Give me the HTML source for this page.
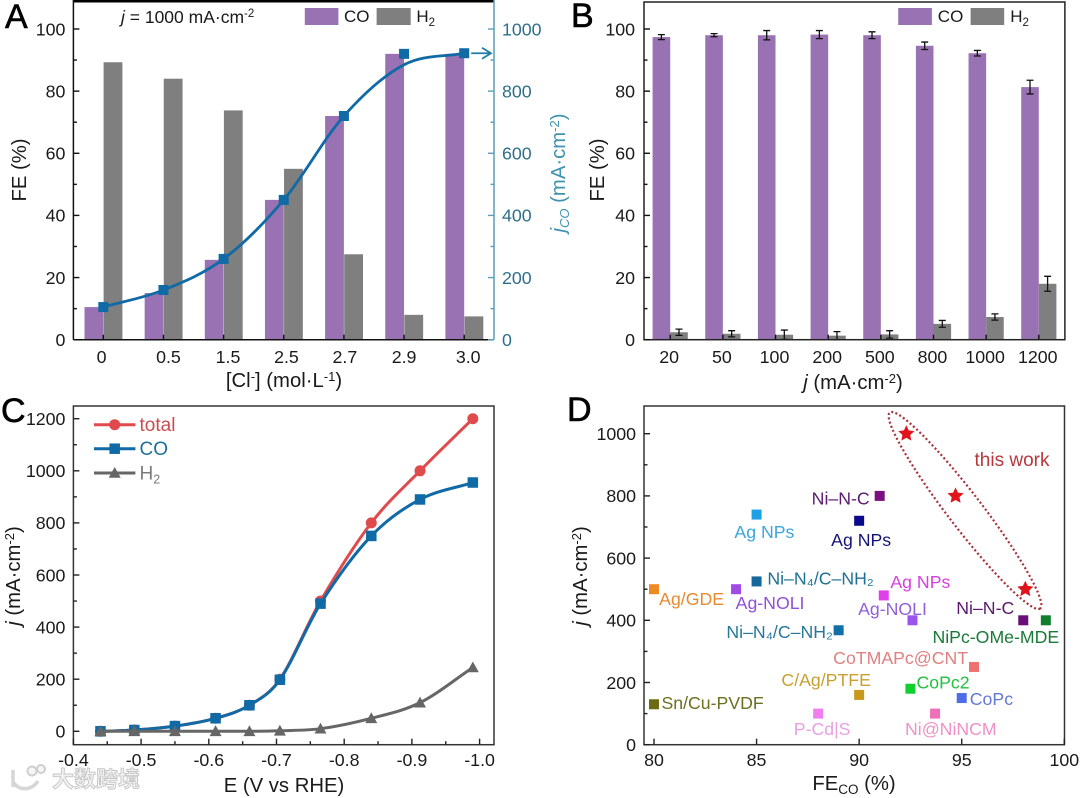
<!DOCTYPE html>
<html lang="en">
<head>
<meta charset="utf-8">
<title>CO2 electrolysis performance panels</title>
<style>
html,body{margin:0;padding:0;background:#fff;}
svg{display:block;font-family:"Liberation Sans","Noto Sans CJK SC",sans-serif;}
text{fill:#1a1a1a;}
.tick{font-size:17.8px;}
.title{font-size:20.3px;}
.letter{font-size:34px;fill:#000;stroke:#000;stroke-width:.6px;}
.dlabel{font-size:17.7px;text-anchor:middle;}
.leg{font-size:17px;}
</style>
</head>
<body>
<svg id="figure" width="1080" height="798" viewBox="0 0 1080 798" xmlns="http://www.w3.org/2000/svg">
<rect width="1080" height="798" fill="#fff"/>

<g id="panelA"></g>
<g id="panelB"></g>
<g id="panelC"></g>
<g id="panelD"></g>

<text class="letter" x="5" y="28">A</text>
<text class="letter" x="571" y="27">B</text>
<text class="letter" x="1" y="422">C</text>
<text class="letter" x="567" y="421">D</text>

<!-- Panel A static text -->
<text x="121" y="23" font-size="17.5"><tspan font-style="italic">j</tspan> = 1000 mA·cm<tspan dy="-6" font-size="11.5">-2</tspan></text>
<rect x="304.800" y="8" width="33.600" height="17" fill="#9872b2"/>
<text class="leg" x="344" y="22">CO</text>
<rect x="376.600" y="8" width="34.100" height="17" fill="#7f7f7f"/>
<text class="leg" x="416.400" y="22">H<tspan dy="4" font-size="11.5">2</tspan></text>
<text class="title" transform="translate(26,170) rotate(-90)" text-anchor="middle">FE (%)</text>
<text class="title" x="284" y="387" text-anchor="middle">[Cl<tspan dy="-6" font-size="13">-</tspan><tspan dy="6">] (mol·L</tspan><tspan dy="-6" font-size="13">-1</tspan><tspan dy="6">)</tspan></text>
<text class="title" transform="translate(565,173) rotate(-90)" text-anchor="middle" style="fill:#3f93ad"><tspan style="fill:#3f93ad" font-style="italic">j</tspan><tspan style="fill:#3f93ad" font-style="italic" dy="4" font-size="13">CO</tspan><tspan style="fill:#3f93ad" dy="-4"> (mA·cm</tspan><tspan style="fill:#3f93ad" dy="-6" font-size="13">-2</tspan><tspan style="fill:#3f93ad" dy="6">)</tspan></text>

<!-- Panel B static text -->
<rect x="898.200" y="8" width="33.700" height="17" fill="#9872b2"/>
<text class="leg" x="937.800" y="22">CO</text>
<rect x="970.600" y="8" width="33.600" height="17" fill="#7f7f7f"/>
<text class="leg" x="1010.200" y="22">H<tspan dy="4" font-size="11.5">2</tspan></text>
<text class="title" transform="translate(604,170) rotate(-90)" text-anchor="middle">FE (%)</text>
<text class="title" x="853" y="389" text-anchor="middle"><tspan font-style="italic">j</tspan> (mA·cm<tspan dy="-6" font-size="13">-2</tspan><tspan dy="6">)</tspan></text>

<!-- Panel C static text -->
<text class="title" transform="translate(20,576) rotate(-90)" text-anchor="middle"><tspan font-style="italic">j</tspan> (mA·cm<tspan dy="-6" font-size="13">-2</tspan><tspan dy="6">)</tspan></text>
<text class="title" x="284" y="792" text-anchor="middle">E (V vs RHE)</text>

<!-- Panel D static text -->
<text class="title" transform="translate(587,576) rotate(-90)" text-anchor="middle"><tspan font-style="italic">j</tspan> (mA·cm<tspan dy="-6" font-size="13">-2</tspan><tspan dy="6">)</tspan></text>
<text class="title" x="854" y="790" text-anchor="middle">FE<tspan dy="4" font-size="13.5">CO</tspan><tspan dy="-4"> (%)</tspan></text>
<text x="1012" y="466" font-size="19" text-anchor="middle" style="fill:#b8383c">this work</text>
<ellipse cx="965" cy="510.500" rx="123.500" ry="17" transform="rotate(52.5 965 510.500)" fill="none" stroke="#a83038" stroke-width="2.2" stroke-dasharray="2 2.4"/>

<!-- Watermark -->
<g>
  <circle cx="32" cy="771" r="4.500" fill="#f6f6f6" stroke="#cfcfcf" stroke-width="2"/>
  <circle cx="41" cy="769" r="4" fill="#f6f6f6" stroke="#cfcfcf" stroke-width="2"/>
  <path d="M13 770 L13 787 M13 782 C20 792 32 790 38 781" fill="none" stroke="#d6d6d6" stroke-width="3.500"/>
  <text x="52" y="787" font-size="22" font-weight="bold" style="fill:#f2f2f2;stroke:#c6c6c6;stroke-width:.9px;font-family:'Liberation Sans','Noto Sans CJK SC',sans-serif">大数跨境</text>
</g>

<script>
/* ---------- Panel A data ---------- */
var aCategories = ['0', '0.5', '1.5', '2.5', '2.7', '2.9', '3.0'];
var aFeCO = [10.5, 15, 25.7, 45, 72, 92, 92];
var aFeH2 = [89.3, 84, 73.8, 55, 27.5, 8, 7.5];
var aJco = [105, 160, 260, 450, 720, 920, 922];
var aJcoFit = [105, 160, 260, 450, 720, 885, 922];
var aFeTicks = [0, 10, 20, 30, 40, 50, 60, 70, 80, 90, 100];
var aJTicks = [0, 100, 200, 300, 400, 500, 600, 700, 800, 900, 1000];

/* ---------- Panel B data ---------- */
var bCategories = ['20', '50', '100', '200', '500', '800', '1000', '1200'];
var bFeCO = [97.4, 98, 98, 98.2, 98, 94.6, 92.2, 81.3];
var bFeCOErr = [0.8, 0.5, 1.5, 1.3, 1.1, 1.2, 0.9, 2.2];
var bFeH2 = [2.4, 1.9, 1.6, 1.3, 1.7, 5.1, 7.3, 18];
var bFeH2Err = [1, 1, 1.5, 1.3, 1.2, 1.1, 1, 2.4];
var bFeTicks = [0, 10, 20, 30, 40, 50, 60, 70, 80, 90, 100];

/* ---------- Panel C data ---------- */
var cPotential = [-0.44, -0.49, -0.55, -0.61, -0.66, -0.705, -0.765, -0.84, -0.912, -0.99];
var cTotal = [0, 5, 20, 50, 100, 200, 500, 800, 1000, 1200];
var cCO = [0, 5, 20, 50, 100, 198, 490, 750, 890, 955];
var cH2 = [0, 0, 0, 0, 0, 2, 10, 50, 110, 245];
var cXTicks = [-0.4, -0.45, -0.5, -0.55, -0.6, -0.65, -0.7, -0.75, -0.8, -0.85, -0.9, -0.95, -1.0];
var cYTicks = [0, 100, 200, 300, 400, 500, 600, 700, 800, 900, 1000, 1100, 1200];

/* ---------- Panel D data ---------- */
var dNames = ['Ag/GDE', 'Sn/Cu-PVDF', 'Ag NPs', 'Ni\u2013N\u2084/C\u2013NH\u2082', 'Ag-NOLI', 'Ni\u2013N-C', 'Ag NPs', 'Ag NPs', 'Ag-NOLI', 'Ni\u2013N-C', 'NiPc-OMe-MDE', 'Ni\u2013N\u2084/C\u2013NH\u2082', 'CoTMAPc@CNT', 'CoPc2', 'CoPc', 'C/Ag/PTFE', 'P-Cd|S', 'Ni@NiNCM'];
var dFE = [80, 80, 85, 85, 84, 91, 90, 91.2, 92.6, 98, 99.1, 89, 95.6, 92.5, 95, 90, 88, 93.7];
var dJ = [500, 130, 740, 525, 500, 800, 720, 480, 400, 400, 400, 368, 250, 180, 150, 160, 100, 100];
var dThisFE = [92.3, 94.7, 98.1];
var dThisJ = [1000, 800, 500];
var dXTicks = [80, 85, 90, 95, 100];
var dYTicks = [0, 100, 200, 300, 400, 500, 600, 700, 800, 900, 1000];

/* ---------- Styling and label layout (not data) ---------- */
var PURPLE = '#9872b2', GREY = '#7f7f7f', BLUE = '#0f6aa5', RED = '#e04a4c', DGREY = '#666666', TEAL = '#5a9fb5', TEALTXT = '#2d6f8a';
var dFill = ['#f08a24', '#6b6b14', '#1ea0e6', '#14689c', '#a04ae8', '#7a0f80', '#0a0a8a', '#e040e8', '#9b55ee', '#6a0f78', '#0f7f2c', '#1270a8', '#ee7070', '#10d030', '#4e6ee8', '#c8981c', '#f080f0', '#f070b8'];
var dTextFill = ['#e88a30', '#6e6e20', '#3aa6dc', '#1f7096', '#9050d8', '#5a1a70', '#141478', '#d840e0', '#9060d8', '#5a1a70', '#1a7a38', '#28789e', '#e08080', '#20c040', '#6478d8', '#c8a030', '#e8a0e0', '#f090c8'];
var layoutLabelShift = [[37.6, 15.8], [58.6, 4.7], [7.8, 23.4], [64, 3.3], [34, 19.8], [-39, 8.8], [2, 25.2], [36.6, -7.4], [-20, -5.3], [-38, -6.3], [-50, 22.7], [-59, 7.7], [-73.4, -3], [32.6, 0], [29.7, 6.7], [-33, -9], [4, 21.4], [15.8, 21.4]];
var layoutANudge = [-1.7, 5, 4.4, 2.7, 1, 0, 4];

var NS = 'http://www.w3.org/2000/svg';
function mk(parent, tag, attrs, txt) {
  var e = document.createElementNS(NS, tag);
  for (var k in attrs) e.setAttribute(k, attrs[k]);
  if (txt !== undefined) e.textContent = txt;
  parent.appendChild(e);
  return e;
}
function linear(d0, d1, r0, r1) {
  return function (v) { return r0 + (v - d0) * (r1 - r0) / (d1 - d0); };
}
function smoothPath(xs, ys) {
  var n = xs.length, d = [], m = [], i;
  for (i = 0; i < n - 1; i++) d.push((ys[i + 1] - ys[i]) / (xs[i + 1] - xs[i]));
  m[0] = d[0];
  m[n - 1] = d[n - 2];
  for (i = 1; i < n - 1; i++) {
    if (d[i - 1] * d[i] <= 0) { m[i] = 0; continue; }
    var t = (ys[i + 1] - ys[i - 1]) / (xs[i + 1] - xs[i - 1]);
    var lim = 3 * Math.min(Math.abs(d[i - 1]), Math.abs(d[i]));
    m[i] = Math.sign(t) * Math.min(Math.abs(t), lim);
  }
  var p = 'M' + xs[0] + ' ' + ys[0];
  for (i = 0; i < n - 1; i++) {
    var h = (xs[i + 1] - xs[i]) / 3;
    p += ' C' + (xs[i] + h) + ' ' + (ys[i] + m[i] * h) + ' ' + (xs[i + 1] - h) + ' ' + (ys[i + 1] - m[i + 1] * h) + ' ' + xs[i + 1] + ' ' + ys[i + 1];
  }
  return p;
}
function squareMark(g, cx, cy, size, fill) {
  return mk(g, 'rect', { x: cx - size / 2, y: cy - size / 2, width: size, height: size, fill: fill });
}
function trianglePts(cx, cy, r) {
  return cx + ',' + (cy - r) + ' ' + (cx - r) + ',' + (cy + r * 0.8) + ' ' + (cx + r) + ',' + (cy + r * 0.8);
}
function starPts(cx, cy, R) {
  var s = [];
  for (var i = 0; i < 10; i++) {
    var r = i % 2 ? R * 0.48 : R, a = -Math.PI / 2 + i * Math.PI / 5;
    s.push((cx + r * Math.cos(a)) + ',' + (cy + r * Math.sin(a)));
  }
  return s.join(' ');
}
function frame(g, x0, y0, x1, y1, stroke) {
  var f = mk(g, 'rect', { x: x0, y: y0, width: x1 - x0, height: y1 - y0, fill: 'none', stroke: stroke, 'stroke-width': 1.5 });
  
  
}
function yAxis(g, ticks, scale, axisX, dir, labelX, anchor, stroke, textColor, axisName) {
  ticks.forEach(function (v, i) {
    var major = i % 2 === 0, len = major ? 6 : 3.5;
    var t = mk(g, 'line', { x1: axisX, x2: axisX + dir * len, y1: scale(v), y2: scale(v), stroke: stroke, 'stroke-width': 1.4 });
    
    
    if (major) {
      var l = mk(g, 'text', { x: labelX, y: scale(v) + 6.3, 'text-anchor': anchor, 'class': 'tick', style: 'fill:' + textColor }, String(v));
      
      
    }
  });
}
function xTick(g, x, y, len, stroke, name) {
  var t = mk(g, 'line', { x1: x, x2: x, y1: y, y2: y - len, stroke: stroke, 'stroke-width': 1.4 });
  
  
}
function xLabel(g, x, y, txt, name) {
  var l = mk(g, 'text', { x: x, y: y, 'text-anchor': 'middle', 'class': 'tick' }, txt);
  
  
}
function bar(g, x, y0, y, w, fill) {
  return mk(g, 'rect', { x: x, y: Math.min(y, y0), width: w, height: Math.abs(y0 - y), fill: fill });
}

/* ================= Panel A ================= */
(function () {
  var g = document.getElementById('panelA');
  var L = 73.4, R = 494, T = 1, B = 339.7;
  var x = linear(0, 6, 103.3, 464.2);
  var yFE = linear(0, 100, B, 29);
  var yJ = linear(0, 1000, B, 29);
  var bw = 18.8;
  aCategories.forEach(function (c, i) {
    var co = bar(g, x(i) - bw, B, yFE(aFeCO[i]), bw, PURPLE);
    
    
    var h2 = bar(g, x(i) + 0.3, B, yFE(aFeH2[i]), bw, GREY);
    
    
  });
  var fit = mk(g, 'path', { d: smoothPath(aCategories.map(function (c, i) { return x(i); }), aJcoFit.map(yJ)), fill: 'none', stroke: BLUE, 'stroke-width': 2.8 });
  
  
  aJco.forEach(function (v, i) {
    var s = squareMark(g, x(i), yJ(v), 10, BLUE);
    
    
  });
  var ay = yJ(aJco[aJco.length - 1]);
  var ax = x(aCategories.length - 1);
  var arrow = mk(g, 'path', { d: 'M' + (ax + 7) + ' ' + ay + ' H' + (R - 3) + ' M' + (R - 12) + ' ' + (ay - 5.5) + ' L' + (R - 3) + ' ' + ay + ' L' + (R - 12) + ' ' + (ay + 5.5), fill: 'none', stroke: '#1f7fa8', 'stroke-width': 1.8 });
  
  
  var top = mk(g, 'line', { x1: L, x2: R, y1: T, y2: T, stroke: '#000', 'stroke-width': 3 });
  
  
  var left = mk(g, 'line', { x1: L, x2: L, y1: 0, y2: B, stroke: '#111', 'stroke-width': 1.5 });
  
  
  var bottom = mk(g, 'line', { x1: L, x2: R, y1: B, y2: B, stroke: '#111', 'stroke-width': 1.5 });
  
  
  var right = mk(g, 'line', { x1: R, x2: R, y1: 0, y2: B, stroke: TEAL, 'stroke-width': 1.5 });
  
  
  yAxis(g, aFeTicks, yFE, L, 1, 65.4, 'end', '#111', '#1a1a1a', 'fe-axis-a');
  yAxis(g, aJTicks, yJ, R, -1, 502, 'start', TEAL, TEALTXT, 'jco-axis');
  aCategories.forEach(function (c, i) {
    xTick(g, x(i), B, 5, '#111', 'x-axis-a');
    xLabel(g, x(i) + layoutANudge[i], 363, c, 'x-axis-a');
  });
})();

/* ================= Panel B ================= */
(function () {
  var g = document.getElementById('panelB');
  var L = 644, R = 1064.9, T = 2, B = 339.7;
  var x = linear(0, 7, 670.2, 1038.8);
  var y = linear(0, 100, B, 29);
  var bw = 17.6;
  function err(cx, v, e, name) {
    var cap = 3.5;
    var p = mk(g, 'path', { d: 'M' + cx + ' ' + y(v - e) + ' V' + y(v + e) + ' M' + (cx - cap) + ' ' + y(v - e) + ' H' + (cx + cap) + ' M' + (cx - cap) + ' ' + y(v + e) + ' H' + (cx + cap), fill: 'none', stroke: '#111', 'stroke-width': 1.3 });
    
    
  }
  bCategories.forEach(function (c, i) {
    var co = bar(g, x(i) - bw, B, y(bFeCO[i]), bw, PURPLE);
    
    
    var h2 = bar(g, x(i), B, y(bFeH2[i]), bw, GREY);
    
    
    err(x(i) - bw / 2, bFeCO[i], bFeCOErr[i], 'error-bar-co-' + c);
    err(x(i) + bw / 2, bFeH2[i], bFeH2Err[i], 'error-bar-h2-' + c);
    xTick(g, x(i), B, 5, '#111', 'x-axis-b');
    xLabel(g, x(i) - 1, 363, c, 'x-axis-b');
  });
  frame(g, L, T, R, B, '#222');
  yAxis(g, bFeTicks, y, L, 1, 635, 'end', '#111', '#1a1a1a', 'fe-axis-b');
})();

/* ================= Panel C ================= */
(function () {
  var g = document.getElementById('panelC');
  var L = 73.4, R = 494, T = 406, B = 744.7;
  var x = linear(-0.4, -1.0, 73.4, 479.6);
  var y = linear(0, 1200, 731.3, 418.7);
  var xs = cPotential.map(x);
  function series(vals, color, name) {
    var p = mk(g, 'path', { d: smoothPath(xs, vals.map(y)), fill: 'none', stroke: color, 'stroke-width': 3 });
    
    
  }
  series(cTotal, RED, 'total');
  cTotal.forEach(function (v, i) {
    var c = mk(g, 'circle', { cx: xs[i], cy: y(v), r: 5.5, fill: RED });
    
    
  });
  series(cCO, BLUE, 'co');
  cCO.forEach(function (v, i) {
    var s = squareMark(g, xs[i], y(v), 10.5, BLUE);
    
    
  });
  series(cH2, DGREY, 'h2');
  cH2.forEach(function (v, i) {
    var t = mk(g, 'polygon', { points: trianglePts(xs[i], y(v), 6), fill: DGREY });
    
    
  });
  frame(g, L, T, R, B, '#333');
  yAxis(g, cYTicks, y, L, 1, 65.4, 'end', '#222', '#1a1a1a', 'j-axis-c');
  cXTicks.forEach(function (v, i) {
    var major = i % 2 === 0;
    xTick(g, x(v), B, major ? 6 : 3.5, '#222', 'x-axis-c');
    if (major) xLabel(g, x(v), 766, v.toFixed(1), 'x-axis-c');
  });
  var legRows = [['total', RED, '#c94c50', 424.7], ['CO', BLUE, '#1f7097', 448.7], ['H2', DGREY, '#7b7b7b', 473]];
  legRows.forEach(function (r, i) {
    var ln = mk(g, 'line', { x1: 94, x2: 135.4, y1: r[3], y2: r[3], stroke: r[1], 'stroke-width': 3 });
    
    
    var m;
    if (i === 0) m = mk(g, 'circle', { cx: 114.7, cy: r[3], r: 5.5, fill: r[1] });
    if (i === 1) m = squareMark(g, 114.7, r[3], 10.5, r[1]);
    if (i === 2) m = mk(g, 'polygon', { points: trianglePts(114.7, r[3], 6), fill: r[1] });
    
    
    var t = mk(g, 'text', { x: 139.5, y: r[3] + 6.5, 'font-size': 19, style: 'fill:' + r[2] });
    if (i === 2) {
      mk(t, 'tspan', { style: 'fill:' + r[2] }, 'H');
      mk(t, 'tspan', { dy: 4, 'font-size': 12.5, style: 'fill:' + r[2] }, '2');
    } else {
      t.textContent = r[0];
    }
    
    
  });
})();

/* ================= Panel D ================= */
(function () {
  var g = document.getElementById('panelD');
  var L = 644, R = 1064.5, T = 406, B = 744.7;
  var x = linear(80, 100, 654, 1064.3);
  var y = linear(0, 1000, B, 433.7);
  dNames.forEach(function (n, i) {
    var s = squareMark(g, x(dFE[i]), y(dJ[i]), 10, dFill[i]);
    
    
    var t = mk(g, 'text', { x: x(dFE[i]) + layoutLabelShift[i][0], y: y(dJ[i]) + layoutLabelShift[i][1], 'class': 'dlabel', style: 'fill:' + dTextFill[i] }, n);
    
    
  });
  dThisFE.forEach(function (v, i) {
    var s = mk(g, 'polygon', { points: starPts(x(v), y(dThisJ[i]), 8.5), fill: '#e0141c' });
    
    
  });
  frame(g, L, T, R, B, '#333');
  yAxis(g, dYTicks, y, L, 1, 636, 'end', '#222', '#1a1a1a', 'j-axis-d');
  dXTicks.forEach(function (v) {
    xTick(g, x(v), B, 6, '#222', 'x-axis-d');
    xLabel(g, x(v), 766, String(v), 'x-axis-d');
  });
})();
</script>
</svg>
</body>
</html>
